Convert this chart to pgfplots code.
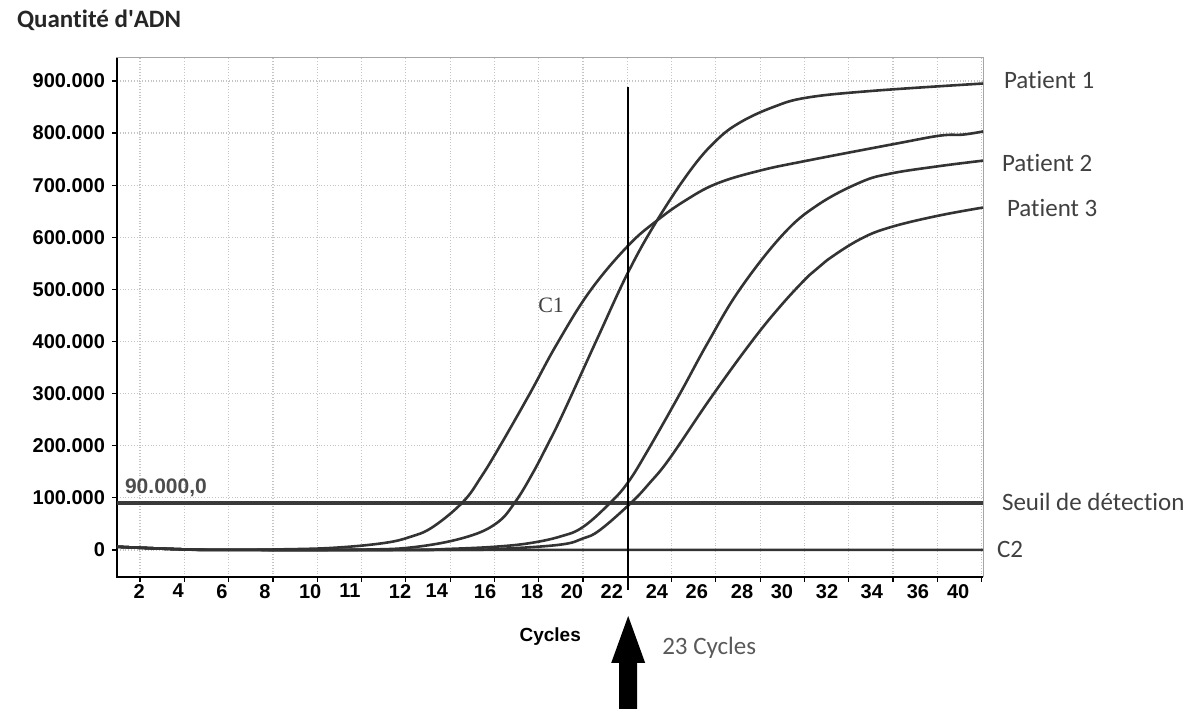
\documentclass[border=0pt]{standalone}
\usepackage{pgfplots}
\pgfplotsset{compat=1.18}
\usepackage{fontspec}
\setmainfont{Carlito}[Ligatures={TeX,NoCommon}]
\newfontfamily\lsans{Liberation Sans}
\newfontfamily\lserif{Liberation Serif}
\definecolor{curve}{HTML}{333333}
\definecolor{thr}{HTML}{3A3A3A}
\definecolor{txt}{HTML}{404040}
\definecolor{gridc}{HTML}{C4C4C4}
\tikzset{crv/.style={curve, line width=1.3pt, smooth, tension=0.65, no markers}}
\begin{document}
\begin{tikzpicture}
\path[use as bounding box] (-58.5pt,-67pt) rectangle (538pt,288.5pt);
\begin{axis}[
  at={(0,0)}, anchor=south west,
  scale only axis,
  width=433pt, height=259.5pt,
  xmin=-0.52, xmax=19.03,
  ymin=-52000, ymax=944000,
  axis line style={draw=gray!70, line width=0.5pt},
  xtick={0,...,19},
  xticklabels={},
  ytick={0,100000,...,900000},
  yticklabels={0,100.000,200.000,300.000,400.000,500.000,600.000,700.000,800.000,900.000},
  extra x ticks={-0.02,0.86,1.85,2.82,3.84,4.74,5.87,6.70,7.79,8.85,9.75,10.65,11.67,12.57,13.59,14.49,15.51,16.52,17.56,18.47},
  extra x tick labels={2,4,6,8,10,11,12,14,16,18,20,22,24,26,28,30,32,34,36,40},
  extra x tick style={major tick length=0pt, grid=none},
  tick align=outside, major tick length=2.5pt,
  tick style={draw=black, line width=0.6pt},
  tick pos=left,
  grid=major,
  major grid style={gridc, densely dotted, line width=0.6pt},
  ticklabel style={font=\lsans\bfseries\fontsize{10}{12}\selectfont, text=black},
  scaled y ticks=false,
  clip=false,
]
% thick left and bottom axis lines
\draw[black, line width=1.1pt] (rel axis cs:0,1) -- (rel axis cs:0,0) -- (rel axis cs:1,0);

% threshold
\addplot[thr, line width=2pt, no markers] coordinates {(-0.52,90000) (19.03,90000)};

% C2 (negative control)
\addplot[crv] coordinates {
(-0.52,6000) (1,1000) (2.2,0) (10,0) (19.03,0)};

% C1
\addplot[crv] coordinates {
(-0.52,6000) (1,1000) (2.2,0) (3.16,1000) (4.36,4000) (5.49,13000) (6.1,25000) (6.61,44000)
(7.29,92000) (7.7,140000) (8.13,200000) (8.80,300000) (9.41,395000) (10.16,497000)
(11.02,584000) (11.67,632000) (12.3,670000) (13.02,703000) (14.0,728000) (15.06,747000)
(17.09,780000) (18.06,795000) (18.58,797000) (19.03,803000)};

% Patient 1
\addplot[crv] coordinates {
(-0.52,6000) (1,1000) (2.2,0) (5,500) (6.25,6000) (7.38,25000) (8.06,52000) (8.47,92000)
(8.85,145000) (9.19,200000) (9.55,262000) (10.32,405000) (11.02,533000) (11.67,632000)
(12.42,728000) (13.0,785000) (13.54,820000) (14.3,850000) (15.06,868000) (16.55,881000)
(19.03,895000)};

% Patient 2
\addplot[crv] coordinates {
(-0.52,6000) (1,1000) (2.2,0) (6,0) (7.0,2000) (8.0,6000) (8.8,13000) (9.5,26000)
(10.0,44000) (10.61,90000) (11.02,130000) (11.47,192000) (12.19,300000) (12.82,398000)
(13.54,500000) (14.51,605000) (15.3,662000) (16.25,705000) (16.93,722000)
(18.0,736000) (19.03,747000)};

% Patient 3
\addplot[crv] coordinates {
(-0.52,6000) (1,1000) (2.2,0) (7,0) (8.13,2000) (9.48,10000) (10.0,22000) (10.38,38000)
(11.08,90000) (11.5,128000) (11.96,176000) (12.87,290000) (13.81,400000) (14.5,472000)
(15.12,528000) (15.51,556000) (16.25,596000) (16.93,619000) (18.0,641000) (19.03,657000)};

% vertical marker line at 23 cycles
\draw[black, line width=1pt] (axis cs:11.02,888000) -- (axis cs:11.02,-77000);
\coordinate (AB) at (axis cs:11.02,-52000);

% texts
\node[anchor=west, xshift=-53.5pt, yshift=19pt, text=black!85,
      font=\bfseries\fontsize{12.5}{15}\selectfont] at (rel axis cs:0,1) {Quantité d\textquotesingle ADN};
\node[yshift=-30pt, font=\lsans\bfseries\fontsize{9.5}{11}\selectfont] at (axis cs:9.26,-52000) {Cycles};
\node[anchor=west, xshift=13.5pt, yshift=-35.5pt, text=black!65,
      font=\fontsize{12.5}{15}\selectfont] at (axis cs:11.02,-52000) {23 Cycles};
\node[anchor=west, xshift=7pt, text=txt, font=\fontsize{12.5}{15}\selectfont] at (axis cs:19.03,902000) {Patient 1};
\node[anchor=west, xshift=6pt, text=txt, font=\fontsize{12.5}{15}\selectfont] at (axis cs:19.03,742000) {Patient 2};
\node[anchor=west, xshift=8.5pt, text=txt, font=\fontsize{12.5}{15}\selectfont] at (axis cs:19.03,656000) {Patient 3};
\node[anchor=west, xshift=6pt, text=txt, font=\fontsize{12.5}{15}\selectfont] at (axis cs:19.03,92000) {Seuil de détection};
\node[anchor=west, xshift=3.5pt, text=txt, font=\fontsize{12.5}{15}\selectfont] at (axis cs:19.03,0) {C2};
\node[text=txt, font=\lserif\fontsize{11}{13}\selectfont] at (axis cs:9.28,470000) {C1};
\node[anchor=west, xshift=0.5pt, text=black!70, font=\lsans\bfseries\fontsize{10.5}{12}\selectfont] at (axis cs:-0.52,119000) {90.000,0};
\end{axis}
% arrow under the 23-cycle marker
\fill[black] ([yshift=-19.5pt]AB) -- ([shift={(8.5pt,-43pt)}]AB) -- ([shift={(4.5pt,-43pt)}]AB)
  -- ([shift={(4.5pt,-66pt)}]AB) -- ([shift={(-4.5pt,-66pt)}]AB) -- ([shift={(-4.5pt,-43pt)}]AB)
  -- ([shift={(-8.5pt,-43pt)}]AB) -- cycle;
\end{tikzpicture}
\end{document}
